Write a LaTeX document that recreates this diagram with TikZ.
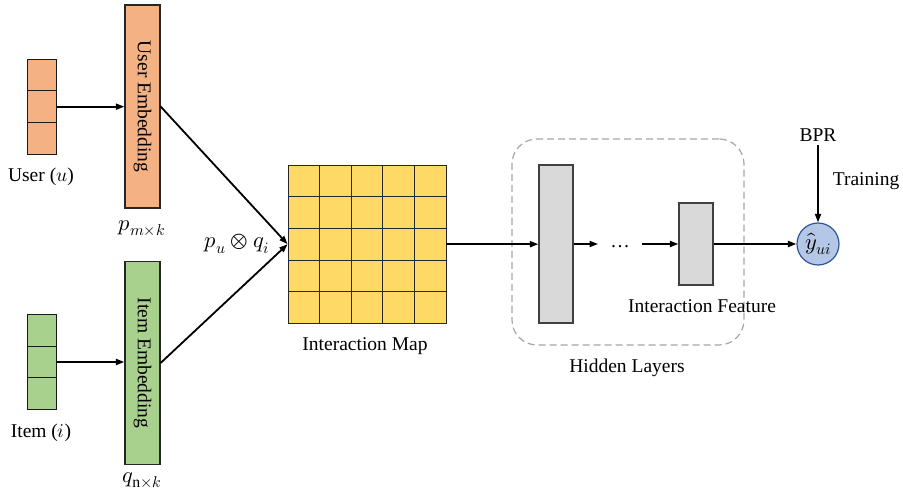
\documentclass[tikz,border=0pt]{standalone}
\usepackage{fontspec}
\usepackage{unicode-math}
\setmainfont{Liberation Serif}
\setmathfont{Latin Modern Math}
\usepackage{graphicx}
\usetikzlibrary{arrows.meta}

\begin{document}
\begin{tikzpicture}[x=1pt, y=-1pt,
    every node/.style={font=\fontsize{19.5pt}{23pt}\selectfont},
    mathlabel/.style={font=\fontsize{22.5pt}{26pt}\selectfont},
    cell/.style={draw=black!90, line width=1pt, minimum width=29pt, minimum height=31.7pt, inner sep=0pt},
    embbox/.style={draw=black!85, line width=1.2pt, minimum width=35pt, minimum height=203pt, inner sep=0pt},
    mapcell/.style={draw=black!85, fill=mapColour, line width=0.8pt, minimum size=31.6pt, inner sep=0pt},
    layerbox/.style={draw=black!75, fill=layerColour, line width=1.2pt, minimum width=34pt, inner sep=0pt},
    flow/.style={-{Triangle[length=8.5pt,width=6pt]}, line width=1.8pt}]

    \definecolor{userColour}{HTML}{F4B183}
    \definecolor{itemColour}{HTML}{A9D18E}
    \definecolor{mapColour}{HTML}{FFD966}
    \definecolor{layerColour}{HTML}{D9D9D9}
    \definecolor{outColour}{HTML}{B4C7E7}
    \definecolor{outBorder}{HTML}{2F5597}
    \definecolor{dashColour}{HTML}{A6A6A6}

    \useasboundingbox (0,0) rectangle (903,494);

    % Inputs
    \foreach \i in {0,1,2} {
        \node[cell, fill=userColour] (user\i) at (41.5,75+\i*31.7) {};
        \node[cell, fill=itemColour] (item\i) at (41.5,330.7+\i*31.3) {};
    }
    \node (userLabel) at (41,177) {User ($u$)};
    \node (itemLabel) at (41,433) {Item ($i$)};

    % Embeddings
    \node[embbox, fill=userColour] (userEmb) at (142.5,106.5) {\rotatebox{-90}{User Embedding}};
    \node[embbox, fill=itemColour] (itemEmb) at (142.5,363) {\rotatebox{-90}{Item Embedding}};
    \node[mathlabel] (pLabel) at (142,228) {$p_{m\times k}$};
    \node[mathlabel] (qLabel) at (142,480) {$q_{\mathrm{n}\times k}$};

    \draw[flow] (user1.east) -- (userEmb.west |- user1.east);
    \draw[flow] (item1.east) -- (itemEmb.west |- item1.east);

    % Interaction map
    \foreach \r in {0,...,4}
        \foreach \c in {0,...,4}
            \node[mapcell] (m\r\c) at (303.8+\c*31.6,181+\r*31.6) {};
    \node (mapLabel) at (365,346) {Interaction Map};
    \node[mathlabel] (prodLabel) at (237,244) {$p_u \otimes q_i$};

    \draw[flow] (userEmb.east) -- (m20.west);
    \draw[flow] (itemEmb.east) -- (m20.west);

    % Hidden layers
    \node[draw=dashColour, dash pattern=on 7pt off 4pt, line width=1.2pt, rounded corners=25pt,
          minimum width=232pt, minimum height=206pt] (hidden) at (628,242) {};
    \node[layerbox, minimum height=158pt] (layer1) at (556,244) {};
    \node[inner xsep=12pt, text height=8pt, text depth=0pt] (dots) at (620,244) {\dots};
    \node[layerbox, minimum height=82pt] (layer2) at (696,244) {};
    \node (featLabel) at (702,306) {Interaction Feature};
    \node (hiddenLabel) at (627,368) {Hidden Layers};

    \draw[flow] (m24.east) -- (layer1.west |- m24.east);
    \draw[flow] (layer1.east) -- (dots.west);
    \draw[flow] (dots.east) -- (layer2.west);

    % Output
    \node[circle, draw=outBorder, fill=outColour, line width=1.2pt,
          minimum size=42pt, inner sep=0pt, mathlabel] (yhat) at (818,244) {$\hat{y}_{ui}$};
    \node (bpr) at (818,135) {BPR};
    \node (training) at (866,181) {Training};

    \draw[flow] (layer2.east) -- (yhat.west);
    \draw[flow] (bpr.south) -- (yhat.north);

\end{tikzpicture}
\end{document}
